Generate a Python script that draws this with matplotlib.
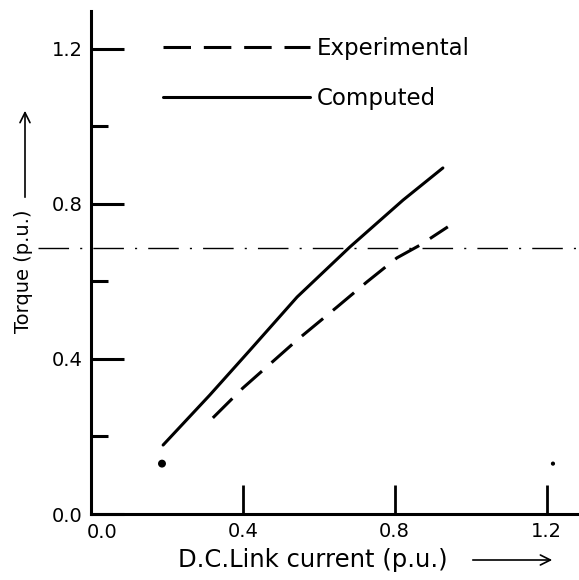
import numpy as np
import matplotlib
matplotlib.use('Agg')
import matplotlib.pyplot as plt

# curves (p.u.)
computed_x = [0.19, 0.313, 0.419, 0.543, 0.682, 0.822, 0.927]
computed_y = [0.178, 0.307, 0.423, 0.560, 0.689, 0.810, 0.893]

experimental_x = [0.321, 0.40, 0.543, 0.648, 0.727, 0.806, 0.867, 0.94]
experimental_y = [0.248, 0.325, 0.449, 0.534, 0.599, 0.661, 0.694, 0.741]

# stray points on the scan
dot_x = [0.187, 1.217]
dot_y = [0.13, 0.13]
dot_s = [22, 4]

ref_level = 0.686  # dash-dot reference line

xticks = [0.4, 0.8, 1.2]
yticks = [0.0, 0.4, 0.8, 1.2]
yminor = [0.2, 0.6, 1.0]
xlim = (0, 1.2856)
ylim = (0, 1.298)

plt.rcParams['font.family'] = 'DejaVu Sans'

fig = plt.figure(figsize=(5.79, 5.80), dpi=100)
ax = fig.add_axes([91/579, 66/580, 488/579, 503/580])

lw = 2.2
ax.plot(computed_x, computed_y, color='black', lw=lw, solid_capstyle='round',
        label='Computed')
ax.plot(experimental_x, experimental_y, color='black', lw=lw,
        dashes=[9.0, 4.2], label='Experimental')
ax.scatter(dot_x, dot_y, s=dot_s, color='black', zorder=3)

# reference line, runs past the y-axis on the left
ax.plot([-0.14, xlim[1]], [ref_level, ref_level], color='black', lw=1.0,
        linestyle=(0, (22, 8, 1.5, 8)), clip_on=False)

ax.set_xlim(*xlim)
ax.set_ylim(*ylim)
for s in ['top', 'right']:
    ax.spines[s].set_visible(False)
for s in ['left', 'bottom']:
    ax.spines[s].set_linewidth(2.2)

ax.set_xticks(xticks)
ax.set_yticks(yticks)
ax.set_yticks(yminor, minor=True)
ax.tick_params(axis='y', which='major', direction='in', length=24, width=2.2,
               labelsize=14, pad=6)
ax.tick_params(axis='y', which='minor', direction='in', length=12, width=2.2)
ax.tick_params(axis='x', which='major', direction='in', length=21, width=2.0,
               labelsize=14, pad=6)
ax.set_yticklabels(['0.0', '0.4', '0.8', '1.2'])
ax.set_xticklabels(['0.4', '0.8', '1.2'])
# "0.0" under the x origin
ax.text(0.03, -0.022, '0.0', fontsize=14, ha='center', va='top')

ax.set_xlabel('D.C.Link current (p.u.)', fontsize=17.5)
ax.xaxis.set_label_coords((313-91)/488, -(548-514)/503)
fig.patches.append(matplotlib.patches.FancyArrowPatch(
    (470/579, 1-560/580), (555/579, 1-560/580), transform=fig.transFigure,
    arrowstyle='->', mutation_scale=18, lw=1.2, color='black'))

ax.set_ylabel('Torque (p.u.)', fontsize=14)
ax.yaxis.set_label_coords(-(91-33)/488, (514-271)/503)
fig.patches.append(matplotlib.patches.FancyArrowPatch(
    (25/579, 1-200/580), (25/579, 1-108/580), transform=fig.transFigure,
    arrowstyle='->', mutation_scale=18, lw=1.2, color='black'))

handles, labels = ax.get_legend_handles_labels()
leg = ax.legend(handles[::-1], labels[::-1], loc='upper left',
                bbox_to_anchor=((163-91)/488, 1-(37-11)/503),
                frameon=False, fontsize=16.5, handlelength=6.4,
                handletextpad=0.3, labelspacing=1.2, borderpad=0,
                borderaxespad=0)

fig.savefig('out.png', dpi=100)
